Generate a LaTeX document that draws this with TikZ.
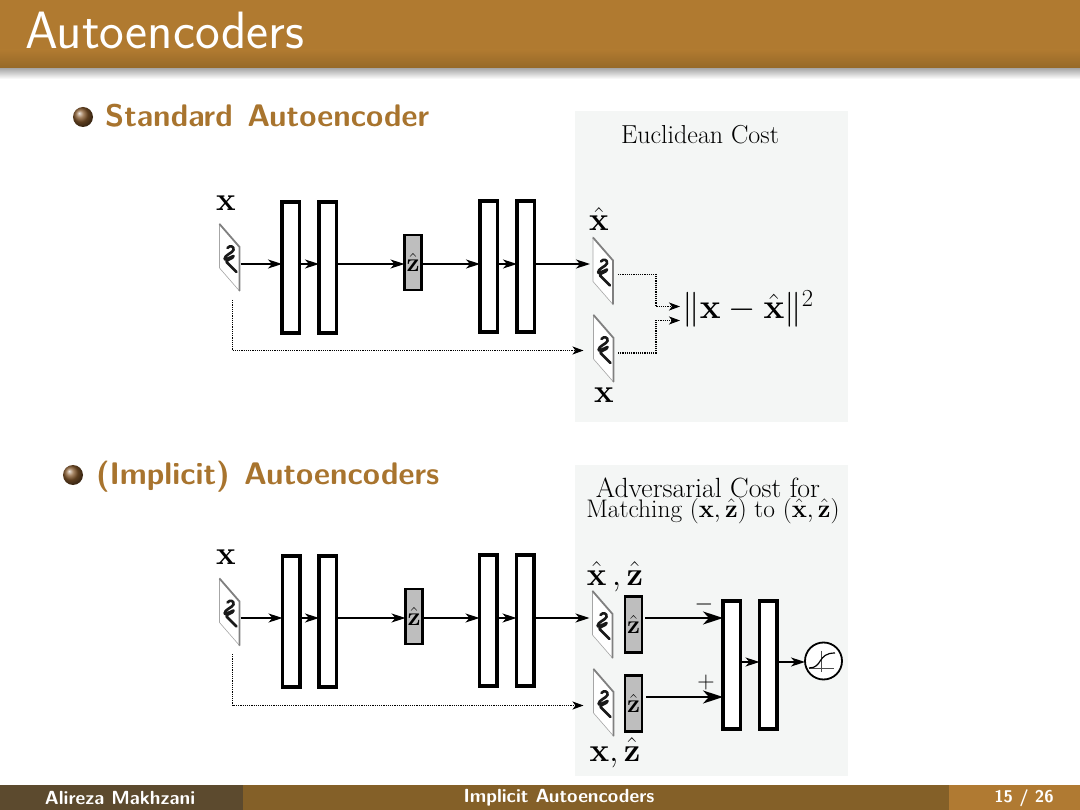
\RequirePackage{fix-cm}
\documentclass[tikz,border=0pt]{standalone}
\usetikzlibrary{arrows.meta,shadings,calc}
\definecolor{barbrown}{RGB}{176,122,48}
\definecolor{bardark}{RGB}{150,105,40}
\definecolor{headbrown}{RGB}{168,116,46}
\definecolor{panelgray}{RGB}{244,246,245}
\definecolor{boxgray}{RGB}{190,190,190}
\definecolor{footleft}{RGB}{92,74,46}
\definecolor{footmid}{RGB}{132,96,40}
\definecolor{footright}{RGB}{176,122,50}
\newcommand{\fsz}[1]{\fontsize{#1}{#1}\selectfont}
\newcommand{\headfont}{\sffamily\bfseries\fsz{31.2}\spaceskip 14.5pt\relax}
\tikzset{
  bigbar/.style={draw=black,line width=3.6pt,fill=white,minimum width=17.5pt,inner sep=0pt,anchor=north west,outer sep=0pt},
  zbox/.style={draw=black,line width=2.6pt,fill=boxgray,minimum width=17pt,inner sep=0pt,anchor=north west,outer sep=0pt,font=\fsz{26}},
  imgnode/.style={minimum width=21pt,minimum height=67pt,inner sep=0pt,outer sep=0pt,anchor=north west},
  mathlabel/.style={font=\fsz{33},inner sep=0pt},
  arr/.style={line width=1.5pt,-{Stealth[length=14pt,width=9pt,inset=4pt]}},
  bigarr/.style={line width=2.2pt,-{Stealth[length=20pt,width=13pt,inset=6pt]}},
  dotarr/.style={line width=1.2pt,densely dotted,-{Stealth[length=11pt,width=8pt,inset=3pt]}},
  plaintext/.style={inner sep=0pt},
  headtext/.style={inner sep=0pt,anchor=base west,text=headbrown,font=\headfont},
  foottext/.style={inner sep=0pt,text=white,font=\sffamily\bfseries\fsz{19}},
}
% parallelogram image with a handwritten digit, #1 node name, #2 = left x, #3 = top y
\newcommand{\imgpanel}[3]{%
  \node[imgnode] (#1) at (#2,#3) {};
  \begin{scope}[shift={(#2,#3)}]
    \fill[white,draw=black!35,line width=.6pt] (0,0) -- (20,23) -- (20,67) -- (0,44) -- cycle;
    \draw[black!50,line width=1.8pt] (0,0) -- (20,23) -- (20,67);
    \draw[black!90,line width=2.6pt,line cap=round,line join=round]
      (8,24) .. controls (10,21) and (15,22) .. (14,26)
      .. controls (13,29) and (5,31) .. (5,35)
      .. controls (5,37) and (11,33) .. (14,32)
      .. controls (14,35) and (7,35) .. (7,38)
      -- (17,48);
  \end{scope}}
\begin{document}
\begin{tikzpicture}[x=1pt,y=-1pt]
\useasboundingbox (0,0) rectangle (1080,810);
% ---- slide furniture
\fill[white] (0,0) rectangle (1080,810);
\shade[top color=black!35,bottom color=white] (0,68) rectangle (1080,79);
\fill[barbrown] (0,0) rectangle (1080,68);
\shade[top color=barbrown,bottom color=bardark] (0,50) rectangle (1080,68);
\node[inner sep=0pt,anchor=base west,text=white,font=\sffamily\fsz{52.5}] (title) at (25,49) {Autoencoders};
\fill[panelgray] (575,111) rectangle (848,422);
\fill[panelgray] (575,465) rectangle (848,776);
\shade[ball color=brown!70!black] (83,117) circle (10);
\node[headtext] (head1) at (105,127) {Standard Autoencoder};
\shade[ball color=brown!70!black] (73,475) circle (10);
\node[headtext] (head2) at (96,484) {(Implicit) Autoencoders};
\fill[footleft] (0,785) rectangle (243,810);
\fill[footmid] (243,785) rectangle (949,810);
\fill[footright] (949,785) rectangle (1080,810);
\node[foottext] (foota) at (120,798) {Alireza Makhzani};
\node[foottext] (footb) at (559,798) {Implicit Autoencoders};
\node[foottext,font=\sffamily\bfseries\fsz{17}] (footc) at (1024,798) {15 / 26};
% ---- standard autoencoder
\node[plaintext,font=\fsz{26}] (cost1) at (700,135) {Euclidean Cost};
\node[mathlabel] (lx1) at (226,203) {$\mathbf{x}$};
\imgpanel{x1}{219.5}{224}
\coordinate (rowa) at (0,264);
\node[bigbar,minimum height=131pt] (b1) at (282,202) {};
\node[bigbar,minimum height=131pt] (b2) at (319,202) {};
\node[zbox,minimum height=55pt] (z1) at (404.5,235) {$\hat{\mathbf{z}}$};
\node[bigbar,minimum height=131pt] (b3) at (480,201) {};
\node[bigbar,minimum height=131pt] (b4) at (517,201) {};
\node[mathlabel] (lx2) at (599,219) {$\hat{\mathbf{x}}$};
\imgpanel{x2}{593}{237.5}
\imgpanel{x3}{593.5}{315}
\node[mathlabel] (lx3) at (604,395) {$\mathbf{x}$};
\node[inner sep=0pt,font=\fsz{35}] (loss) at (748,309) {$\|\mathbf{x}-\hat{\mathbf{x}}\|^2$};
\coordinate (rowb) at (0,350.5);
\coordinate (startb) at (232.5,300);
\draw[arr,line width=1.8pt] (x1.east |- rowa) -- (b1.west |- rowa);
\draw[arr] (b1.east |- rowa) -- (b2.west |- rowa);
\draw[arr,line width=1.1pt] (b2.east |- rowa) -- (z1.west |- rowa);
\draw[arr,line width=1.1pt] (z1.east |- rowa) -- (b3.west |- rowa);
\draw[arr] (b3.east |- rowa) -- (b4.west |- rowa);
\draw[arr,line width=1.1pt,shorten >=3pt] (b4.east |- rowa) -- (x2.west |- rowa);
\draw[dotarr,shorten >=10pt] (startb) -- (startb |- rowb) -- (x3.west |- rowb);
\coordinate (d1s) at (618,274.5);
\coordinate (d1e) at (680,306.5);
\coordinate (d2s) at (618,353);
\coordinate (d2e) at (680,320.5);
\draw[dotarr] (d1s) -| (656,306.5) -- (d1e);
\draw[dotarr] (d2s) -| (656,320.5) -- (d2e);
% ---- implicit autoencoder
\node[plaintext,font=\fsz{27.8}] (cost2) at (708,488) {Adversarial Cost for};
\node[plaintext,font=\fsz{25.4}] (cost3) at (713,511) {Matching $(\mathbf{x},\hat{\mathbf{z}})$ to $(\hat{\mathbf{x}},\hat{\mathbf{z}})$};
\node[mathlabel] (lx4) at (226,557) {$\mathbf{x}$};
\imgpanel{y1}{219.5}{578.5}
\coordinate (rowc) at (0,618);
\node[bigbar,minimum height=131pt] (c1) at (282.5,556) {};
\node[bigbar,minimum height=131pt] (c2) at (319,556) {};
\node[zbox,minimum height=55pt] (z2) at (405.5,589) {$\hat{\mathbf{z}}$};
\node[bigbar,minimum height=131pt] (c3) at (479.5,555) {};
\node[bigbar,minimum height=131pt] (c4) at (516.5,555) {};
\node[mathlabel,anchor=base] (lz1) at (615,585) {$\hat{\mathbf{x}}\,,\hat{\mathbf{z}}$};
\imgpanel{y2}{592.5}{591}
\imgpanel{y3}{593.5}{669}
\node[zbox,minimum height=56pt] (z3) at (625,596.5) {$\hat{\mathbf{z}}$};
\node[zbox,minimum height=56pt] (z4) at (625,675.5) {$\hat{\mathbf{z}}$};
\node[mathlabel,anchor=base] (lz2) at (615,761) {$\mathbf{x},\hat{\mathbf{z}}$};
\node[bigbar,minimum height=128pt] (d1) at (723,601) {};
\node[bigbar,minimum height=128pt] (d2) at (759.5,601) {};
\node[circle,draw=black,line width=1.8pt,minimum size=37pt,inner sep=0pt,outer sep=0pt,fill=white] (sig) at (823.5,661) {};
\draw[black!70,line width=.7pt] (809,668) -- (834,668) (821,650.5) -- (821,672);
\draw[black,line width=1.2pt] (809,668) .. controls (823,668) and (817,653) .. (835,653);
\node[inner sep=0pt,font=\fsz{24}] (minus) at (704,604) {$-$};
\node[inner sep=0pt,font=\fsz{24}] (plus) at (706,682) {$+$};
\coordinate (rowd) at (0,705.5);
\coordinate (startd) at (232.5,654);
\coordinate (rowe) at (0,618);
\coordinate (rowf) at (0,697);
\coordinate (rowg) at (0,662);
\draw[arr,line width=1.8pt] (y1.east |- rowc) -- (c1.west |- rowc);
\draw[arr] (c1.east |- rowc) -- (c2.west |- rowc);
\draw[arr,line width=1.1pt] (c2.east |- rowc) -- (z2.west |- rowc);
\draw[arr,line width=1.1pt] (z2.east |- rowc) -- (c3.west |- rowc);
\draw[arr] (c3.east |- rowc) -- (c4.west |- rowc);
\draw[arr,line width=1.1pt,shorten >=3pt] (c4.east |- rowc) -- (y2.west |- rowc);
\draw[dotarr,shorten >=10pt] (startd) -- (startd |- rowd) -- (y3.west |- rowd);
\draw[bigarr] ([xshift=3pt]z3.east |- rowe) -- (d1.west |- rowe);
\draw[bigarr] ([xshift=4pt]z4.east |- rowf) -- (d1.west |- rowf);
\draw[arr] (d1.east |- rowg) -- (d2.west |- rowg);
\draw[arr] (d2.east |- rowg) -- (sig.west |- rowg);
\end{tikzpicture}
\end{document}
